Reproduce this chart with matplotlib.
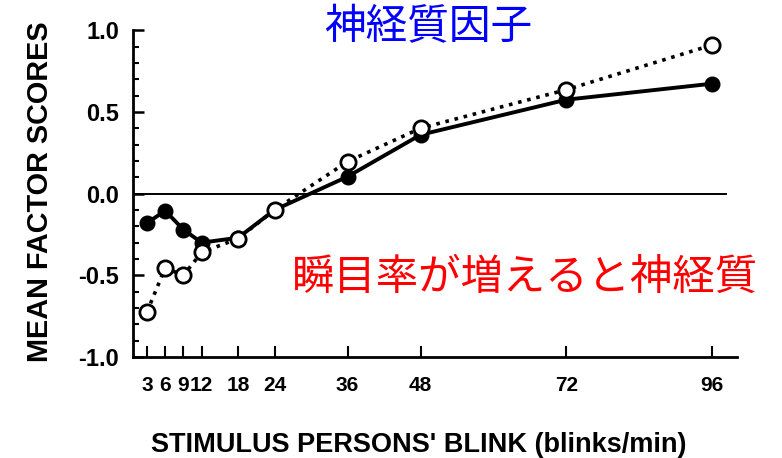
import matplotlib.pyplot as plt
from matplotlib.ticker import MultipleLocator

plt.rcParams['font.family'] = ['Liberation Sans', 'DejaVu Sans']
plt.rcParams['axes.unicode_minus'] = False

# blink rate of the stimulus person (blinks/min)
blink_rates = [3, 6, 9, 12, 18, 24, 36, 48, 72, 96]
tick_labels = ['3', '6', '9', '12', '18', '24', '36', '48', '72', '96']

# mean factor scores, two rating groups
scores_filled = [-0.18, -0.105, -0.22, -0.30, -0.27, -0.10, 0.104, 0.36, 0.575, 0.673]
scores_open = [-0.725, -0.455, -0.50, -0.36, -0.275, -0.10, 0.196, 0.40, 0.636, 0.91]

fig = plt.figure(figsize=(7.82, 4.58), dpi=100)
ax = fig.add_axes([0.170, 0.2205, 0.772, 0.7135])

ax.plot(blink_rates, scores_filled, color='black', linewidth=2.8, marker='o',
        markersize=10.5, markerfacecolor='black', markeredgecolor='black', zorder=3)
ax.plot(blink_rates, scores_open, color='black', linewidth=2.6, linestyle=(0, (1, 1.6)),
        marker='o', markersize=11, markerfacecolor='white', markeredgecolor='black',
        markeredgewidth=2, zorder=4)

# zero reference line
ax.plot([0.7, 98.3], [0, 0], color='black', linewidth=1.4, zorder=2)

ax.set_xlim(0.7, 100)
ax.set_ylim(-1.0, 1.0)
ax.set_xticks(blink_rates)
ax.set_xticklabels(tick_labels, fontweight='bold')
ax.set_yticks([-1.0, -0.5, 0.0, 0.5, 1.0])
ax.set_yticklabels(['-1.0', '-0.5', '0.0', '0.5', '1.0'], fontweight='bold')
ax.yaxis.set_minor_locator(MultipleLocator(0.1))

ax.spines['top'].set_visible(False)
ax.spines['right'].set_visible(False)
ax.spines['left'].set_linewidth(2)
ax.spines['bottom'].set_linewidth(2)

ax.tick_params(axis='y', which='major', direction='in', length=8, width=1.8,
               labelsize=17, pad=10)
ax.tick_params(axis='y', which='minor', direction='in', length=4, width=1.5)
ax.tick_params(axis='x', which='major', direction='in', length=8, width=1.5,
               labelsize=15, pad=14)

ax.set_ylabel('MEAN FACTOR SCORES', fontsize=20.8, fontweight='bold')
ax.yaxis.set_label_coords(-0.13, 0.505)
ax.set_xlabel("STIMULUS PERSONS' BLINK (blinks/min)", fontsize=19.5, fontweight='bold')
ax.xaxis.set_label_coords(0.474, -0.229)

jp = ['Noto Sans CJK JP', 'DejaVu Sans']
fig.text(428 / 782, 1 - 28 / 458, '神経質因子', color='#0000ff', fontsize=30,
         family=jp, ha='center', va='center')
fig.text(525 / 782, 1 - 278 / 458, '瞬目率が増えると神経質', color='#ff0000', fontsize=30.5,
         family=jp, ha='center', va='center')

fig.savefig('out.png', dpi=100)
